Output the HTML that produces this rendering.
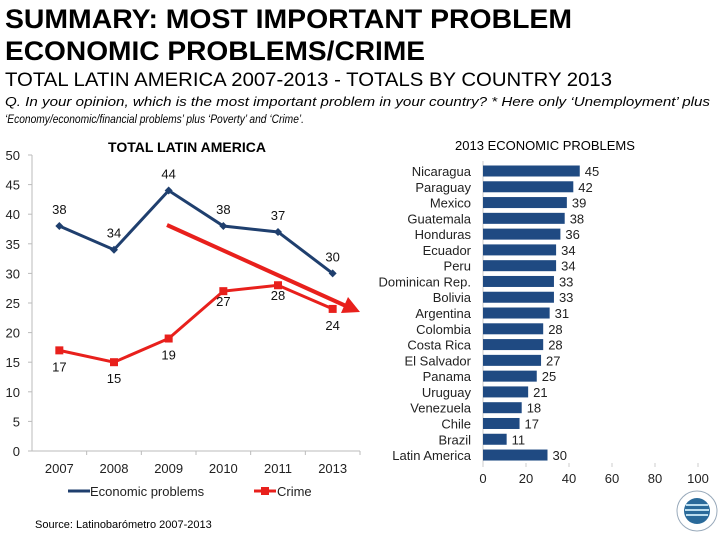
<!DOCTYPE html>
<html><head><meta charset="utf-8"><style>body{margin:0;background:#fff}svg{display:block;font-family:"Liberation Sans",sans-serif}</style></head>
<body>
<svg id="s" width="720" height="540" viewBox="0 0 720 540" xmlns="http://www.w3.org/2000/svg">
<text x="5" y="28" font-size="27" font-weight="bold" textLength="567" lengthAdjust="spacingAndGlyphs">SUMMARY: MOST IMPORTANT PROBLEM</text>
<text x="5" y="60" font-size="27" font-weight="bold" textLength="420" lengthAdjust="spacingAndGlyphs">ECONOMIC PROBLEMS/CRIME</text>
<text x="5" y="86" font-size="19" textLength="607" lengthAdjust="spacingAndGlyphs">TOTAL LATIN AMERICA 2007-2013 - TOTALS BY COUNTRY 2013</text>
<text x="5" y="106" font-size="13" font-style="italic" textLength="705" lengthAdjust="spacingAndGlyphs">Q. In your opinion, which is the most important problem in your country? * Here only ‘Unemployment’ plus</text>
<text x="5" y="123" font-size="12" font-style="italic" textLength="299" lengthAdjust="spacingAndGlyphs">‘Economy/economic/financial problems’ plus ‘Poverty’ and ‘Crime’.</text>
<text x="187" y="152" font-size="14" font-weight="bold" text-anchor="middle">TOTAL LATIN AMERICA</text>
<text x="545" y="150" font-size="13" text-anchor="middle">2013 ECONOMIC PROBLEMS</text>
<g id="lc"></g>
<g id="bc"></g>
<text x="35" y="528" font-size="11">Source: Latinobarómetro 2007-2013</text>
<g>
<circle cx="697" cy="511" r="20" fill="#fff" stroke="#9ab" stroke-width="1"/>
<circle cx="697" cy="511" r="13" fill="#2a6a9a"/>
<path d="M686 505 L708 505 M685 510 L709 510 M686 515 L708 515" stroke="#bde" stroke-width="2"/>
</g>
</svg>
<script>
const years=["2007","2008","2009","2010","2011","2013"];
const econ=[38,34,44,38,37,30];
const crime=[17,15,19,27,28,24];
const yTicks=[0,5,10,15,20,25,30,35,40,45,50];
const countries=["Nicaragua","Paraguay","Mexico","Guatemala","Honduras","Ecuador","Peru","Dominican Rep.","Bolivia","Argentina","Colombia","Costa Rica","El Salvador","Panama","Uruguay","Venezuela","Chile","Brazil","Latin America"];
const barVals=[45,42,39,38,36,34,34,33,33,31,28,28,27,25,21,18,17,11,30];
const xTicks=[0,20,40,60,80,100];
const NS="http://www.w3.org/2000/svg";
function mk(p,t,a,txt){const e=document.createElementNS(NS,t);for(const k in a)e.setAttribute(k,a[k]);if(txt!==undefined)e.textContent=txt;p.appendChild(e);return e;}
const lc=document.getElementById('lc'),bc=document.getElementById('bc');
const X0=32,X1=360,Y0=451,Y1=155,bw=(X1-X0)/years.length;
const lx=i=>X0+bw*(i+0.5), ly=v=>Y0-(v/50)*(Y0-Y1);
let e;
e=mk(lc,'line',{x1:X0,y1:Y1,x2:X0,y2:Y0,stroke:'#bbb'});

e=mk(lc,'line',{x1:X0,y1:Y0,x2:X1,y2:Y0,stroke:'#bbb'});

yTicks.forEach(t=>{mk(lc,'line',{x1:X0-4,y1:ly(t),x2:X0,y2:ly(t),stroke:'#bbb'});
e=mk(lc,'text',{x:20,y:ly(t)+5,'font-size':13,'text-anchor':'end',fill:'#222'},t);
});
years.forEach((y,i)=>{mk(lc,'line',{x1:X0+bw*(i+1),y1:Y0,x2:X0+bw*(i+1),y2:Y0+4,stroke:'#bbb'});
e=mk(lc,'text',{x:lx(i),y:473,'font-size':13,'text-anchor':'middle',fill:'#222'},y);
});
e=mk(lc,'polyline',{points:econ.map((v,i)=>lx(i)+','+ly(v)).join(' '),fill:'none',stroke:'#1f3f6e','stroke-width':3});

e=mk(lc,'polyline',{points:crime.map((v,i)=>lx(i)+','+ly(v)).join(' '),fill:'none',stroke:'#e8201c','stroke-width':3});

econ.forEach((v,i)=>{e=mk(lc,'path',{d:`M${lx(i)-4} ${ly(v)} L${lx(i)} ${ly(v)-4} L${lx(i)+4} ${ly(v)} L${lx(i)} ${ly(v)+4}Z`,fill:'#1f3f6e'});

e=mk(lc,'text',{x:lx(i),y:ly(v)-12,'font-size':13,'text-anchor':'middle',fill:'#111'},v);
});
crime.forEach((v,i)=>{e=mk(lc,'rect',{x:lx(i)-4,y:ly(v)-4,width:8,height:8,fill:'#e8201c'});

e=mk(lc,'text',{x:lx(i),y:ly(v)+(i>=3&&i<5?15:21),'font-size':13,'text-anchor':'middle',fill:'#111'},v);
});
e=mk(lc,'line',{x1:167,y1:225,x2:346,y2:306,stroke:'#e8201c','stroke-width':4});

mk(lc,'path',{d:'M360 312 L341 313 L348 297Z',fill:'#e8201c'});
e=mk(lc,'line',{x1:68,y1:491,x2:90,y2:491,stroke:'#1f3f6e','stroke-width':3});

e=mk(lc,'text',{x:90,y:496,'font-size':13,fill:'#222'},'Economic problems');

e=mk(lc,'line',{x1:254,y1:491,x2:276,y2:491,stroke:'#e8201c','stroke-width':3});

mk(lc,'rect',{x:261,y:487,width:8,height:8,fill:'#e8201c'});
e=mk(lc,'text',{x:277,y:496,'font-size':13,fill:'#222'},'Crime');

const B0=483,B1=698,R0=171,RS=15.78,BH=11;
const bx=v=>B0+v/100*(B1-B0), by=i=>R0+i*RS;
e=mk(bc,'line',{x1:B0,y1:161,x2:B0,y2:465,stroke:'#ccc'});

xTicks.forEach(t=>{mk(bc,'line',{x1:bx(t),y1:463,x2:bx(t),y2:467,stroke:'#ccc'});
e=mk(bc,'text',{x:bx(t),y:483,'font-size':13,'text-anchor':'middle',fill:'#222'},t);
});
countries.forEach((c,i)=>{e=mk(bc,'rect',{x:B0,y:by(i)-BH/2,width:bx(barVals[i])-B0,height:BH,fill:'#1f4a82'});

e=mk(bc,'text',{x:471,y:by(i)+5,'font-size':13,'text-anchor':'end',fill:'#222'},c);

e=mk(bc,'text',{x:bx(barVals[i])+5,y:by(i)+5,'font-size':13,fill:'#222'},barVals[i]);
});
</script>
</body></html>
